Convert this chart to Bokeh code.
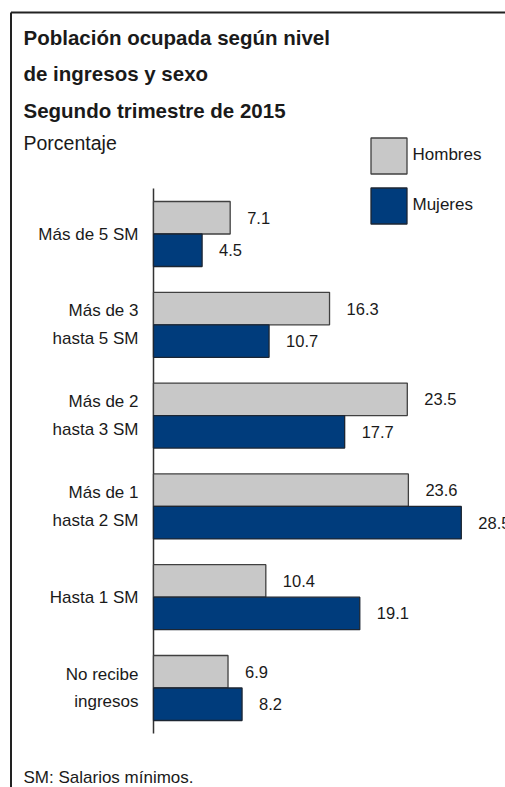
from bokeh.plotting import figure
from bokeh.models import ColumnDataSource, Range1d, Label, Legend, LegendItem, FixedTicker
from bokeh.core.properties import value
from bokeh.embed import file_html
from bokeh.resources import INLINE

# ---- data (top to bottom) ----
categories = ["Más de 5 SM", "Más de 3\nhasta 5 SM", "Más de 2\nhasta 3 SM",
              "Más de 1\nhasta 2 SM", "Hasta 1 SM", "No recibe\ningresos"]
hombres = [7.1, 16.3, 23.5, 23.6, 10.4, 6.9]
mujeres = [4.5, 10.7, 17.7, 28.5, 19.1, 8.2]
series_names = ["Hombres", "Mujeres"]
title_lines = ["Población ocupada según nivel", "de ingresos y sexo", "Segundo trimestre de 2015"]
subtitle = "Porcentaje"
footnote = "SM: Salarios mínimos."

FONT = "Liberation Sans"
TXT = "#1a1a1a"
GRAY = "#c8c8c8"
BLUE = "#003c7c"

W, H = 505, 787
SX, SY = 10.8, 90.8          # px per unit (x), px per category band (y)
AXIS_X = 153                 # canvas px of x = 0
TOP_CENTER = 233.5           # canvas px of the first category's centre

n = len(categories)
pos = [n - 1 - i for i in range(n)]          # numeric position of each category
OFF, BH = 0.179, 0.358

src = ColumnDataSource(dict(
    yh=[q + OFF for q in pos], ym=[q - OFF for q in pos],
    h=hombres, m=mujeres,
    hl=[f"{v:.1f}" for v in hombres], ml=[f"{v:.1f}" for v in mujeres],
))

x0 = -AXIS_X / SX
x1 = (W - AXIS_X) / SX
y1 = (n - 1) + TOP_CENTER / SY
y0 = y1 - H / SY

p = figure(width=W, height=H, output_backend="svg", toolbar_location=None,
           x_range=Range1d(x0, x1), y_range=Range1d(y0, y1),
           x_axis_location=None, min_border=0)
p.outline_line_color = None
p.grid.visible = False
p.background_fill_color = "white"
p.border_fill_color = "white"

ax = p.yaxis[0]
ax.fixed_location = 0
ax.ticker = FixedTicker(ticks=pos)
ax.major_label_overrides = {q: c for q, c in zip(pos, categories)}
ax.axis_line_color = None
ax.major_tick_line_color = None
ax.minor_tick_line_color = None
ax.major_tick_out = 0
ax.major_label_standoff = 15
ax.major_label_text_font = FONT
ax.major_label_text_font_size = "17px"
ax.major_label_text_color = TXT
ax.major_label_text_line_height = 1.47

# vertical baseline of the bars
p.segment(x0=[0], y0=[-0.5], x1=[0], y1=[n - 0.5], line_color="#333333", line_width=1.5)

rh = p.hbar(y="yh", right="h", left=0, height=BH, source=src,
            fill_color=GRAY, line_color="#404040", line_width=1.3)
rm = p.hbar(y="ym", right="m", left=0, height=BH, source=src,
            fill_color=BLUE, line_color="#1c2633", line_width=1.3)

for col, lab, yy in (("h", "hl", "yh"), ("m", "ml", "ym")):
    p.text(x=col, y=yy, text=lab, source=src,
           x_offset=17, text_align="left", text_baseline="middle",
           text_font=value(FONT), text_font_size="16.5px", text_color=TXT)

legend = Legend(items=[LegendItem(label=series_names[0], renderers=[rh]),
                       LegendItem(label=series_names[1], renderers=[rm])],
                location=(365.5, H - 227.5), orientation="vertical",
                glyph_width=45, glyph_height=45, spacing=5, padding=0, margin=0,
                label_standoff=2, label_text_font=FONT, label_text_font_size="17px",
                label_text_color=TXT, border_line_color=None, background_fill_alpha=0)
p.add_layout(legend, "center")

def sy(cy):
    return H - cy

for t, b in zip(title_lines, [36.7, 73.3, 110]):
    p.add_layout(Label(x=23, y=sy(b), x_units="screen", y_units="screen", text=t,
                       text_font=FONT, text_font_size="20.5px", text_font_style="bold",
                       text_color=TXT, text_baseline="alphabetic"))
p.add_layout(Label(x=23, y=sy(142), x_units="screen", y_units="screen", text=subtitle,
                   text_font=FONT, text_font_size="19.5px", text_color=TXT,
                   text_baseline="alphabetic"))
p.add_layout(Label(x=23, y=sy(777), x_units="screen", y_units="screen", text=footnote,
                   text_font=FONT, text_font_size="17px", text_color=TXT,
                   text_baseline="alphabetic"))

# chart border (left and top edges)
bx = x0 + 10.5 / SX
by = y1 - 12 / SY
p.segment(x0=[bx, bx], y0=[by, by], x1=[bx, x1], y1=[y0, by],
          line_color="#222222", line_width=2)

open("out.html", "w").write(file_html(p, INLINE))
